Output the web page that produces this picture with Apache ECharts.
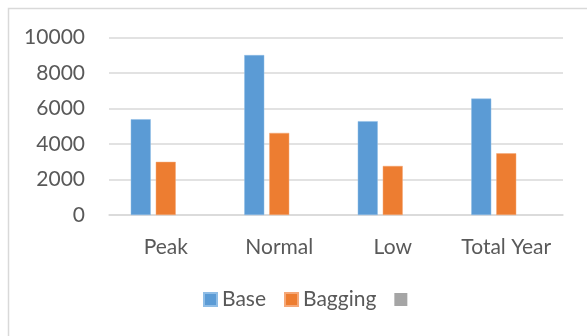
<!DOCTYPE html>
<html>
<head>
<meta charset="utf-8">
<script src="https://cdn.jsdelivr.net/npm/echarts@6/dist/echarts.min.js"></script>
<style>
html,body{margin:0;padding:0;background:#fff;}
#c{width:587px;height:336px;}
</style>
</head>
<body>
<div id="c"></div>
<script>
const categories = ['Peak', 'Normal', 'Low', 'Total Year'];
const baseValues = [5390, 9000, 5280, 6550];
const baggingValues = [2990, 4620, 2760, 3470];
const emptyValues = [null, null, null, null];
const yTicks = [0, 2000, 4000, 6000, 8000, 10000];
const seriesNames = ['Base', 'Bagging', ' '];

const chart = echarts.init(document.getElementById('c'));
const font = 'Lato, "Open Sans", sans-serif';
chart.setOption({
  animation: false,
  graphic: [{
    type: 'rect', silent: true, z: -1,
    shape: {x: 8.5, y: 8.5, width: 700, height: 500},
    style: {fill: '#fff', stroke: '#d9d9d9', lineWidth: 1.5}
  }],
  grid: {left: 109, right: 24, top: 37.3, bottom: 121},
  legend: {
    data: seriesNames,
    left: 198, top: 284,
    itemWidth: 13, itemHeight: 13, itemGap: 18,
    icon: 'rect',
    textStyle: {fontFamily: font, fontSize: 21, color: '#595959', padding: [0, 0, 0, 0]},
  },
  xAxis: {
    type: 'category',
    data: categories,
    axisLine: {lineStyle: {color: '#d9d9d9', width: 1.5}},
    axisTick: {show: false},
    axisLabel: {fontFamily: font, fontSize: 21, color: '#595959', margin: 22, interval: 0}
  },
  yAxis: {
    type: 'value',
    min: yTicks[0], max: yTicks[yTicks.length - 1], interval: 2000,
    axisLine: {show: false},
    axisTick: {show: false},
    splitLine: {lineStyle: {color: '#d9d9d9', width: 1.5}},
    axisLabel: {fontFamily: font, fontSize: 21, color: '#595959', margin: 24, formatter: v => String(v)}
  },
  series: [
    {name: seriesNames[0], type: 'bar', data: baseValues, barWidth: 20, barGap: '25%',
     itemStyle: {color: '#5B9BD5', borderColor: '#8fbde6', borderWidth: 0.5}},
    {name: seriesNames[1], type: 'bar', data: baggingValues, barWidth: 20, barGap: '25%',
     itemStyle: {color: '#ED7D31', borderColor: '#f5a878', borderWidth: 0.5}},
    {name: seriesNames[2], type: 'bar', data: emptyValues, barWidth: 20, barGap: '25%',
     itemStyle: {color: '#A5A5A5'}}
  ]
});
</script>
</body>
</html>
